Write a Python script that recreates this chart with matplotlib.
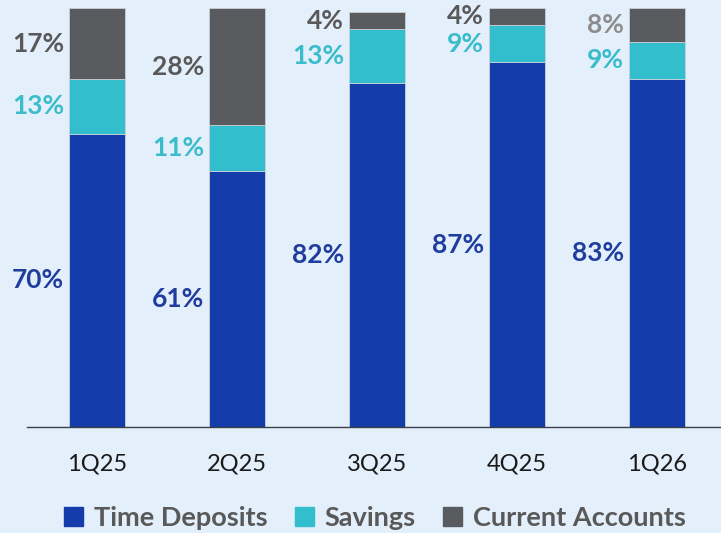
import matplotlib
matplotlib.use("Agg")
import matplotlib.pyplot as plt
from matplotlib.patches import Patch

categories = ["1Q25", "2Q25", "3Q25", "4Q25", "1Q26"]
time_deposits = [70, 61, 82, 87, 83]
savings = [13, 11, 13, 9, 9]
current_accounts = [17, 28, 4, 4, 8]
series_names = ["Time Deposits", "Savings", "Current Accounts"]

bg = "#E3EFFB"
c_td = "#143CAA"
c_sv = "#33BECE"
c_ca = "#5A5B5F"
lab_td = "#1F3C9E"
lab_sv = "#3ABCCB"
lab_ca = ["#595959", "#595959", "#595959", "#595959", "#8C8C8C"]

plt.rcParams['font.family'] = ['Lato', 'DejaVu Sans']

fig = plt.figure(figsize=(7.21, 5.33), dpi=100, facecolor=bg)
ax = fig.add_axes([27/721, 1-427/533, 1-27/721, (427-8)/533])
ax.set_facecolor(bg)

x = list(range(len(categories)))
w = 0.4
ax.bar(x, time_deposits, w, color=c_td, edgecolor="#C8D0DA", linewidth=0.6)
ax.bar(x, savings, w, bottom=time_deposits, color=c_sv, edgecolor="#C8D0DA", linewidth=0.6)
bottom3 = [a + b for a, b in zip(time_deposits, savings)]
ax.bar(x, current_accounts, w, bottom=bottom3, color=c_ca, edgecolor="#C8D0DA", linewidth=0.6)

ax.set_xlim(-0.5, 4.457)
ax.set_ylim(0, 100)

fs = 19
for i in x:
    lx = i - w/2 - 0.035
    ax.text(lx, time_deposits[i]/2, f"{time_deposits[i]}%", ha="right", va="center",
            color=lab_td, fontsize=fs, fontweight="bold")
    ax.text(lx, time_deposits[i] + savings[i]/2, f"{savings[i]}%", ha="right", va="center",
            color=lab_sv, fontsize=fs, fontweight="bold")
    yca = bottom3[i] + current_accounts[i]/2
    ax.text(lx, yca, f"{current_accounts[i]}%", ha="right", va="center",
            color=lab_ca[i], fontsize=fs, fontweight="bold")

for s in ["top", "right", "left"]:
    ax.spines[s].set_visible(False)
ax.spines["bottom"].set_color("#3A3F4A")
ax.spines["bottom"].set_linewidth(1.0)
ax.set_yticks([])
ax.set_xticks(x)
ax.set_xticklabels(categories, fontsize=17, color="#1A1A1A")
ax.tick_params(axis="x", length=0, pad=19)

handles = [Patch(color=c_td), Patch(color=c_sv), Patch(color=c_ca)]
leg = fig.legend(handles, series_names, loc="center", bbox_to_anchor=(375/721, 1-518/533),
                 ncol=3, frameon=False, fontsize=19.5, handlelength=0.7, handleheight=0.7,
                 handletextpad=0.4, columnspacing=1.0)
for t in leg.get_texts():
    t.set_color("#595959")
    t.set_fontweight("bold")

fig.savefig("out.png", dpi=100, facecolor=bg)
